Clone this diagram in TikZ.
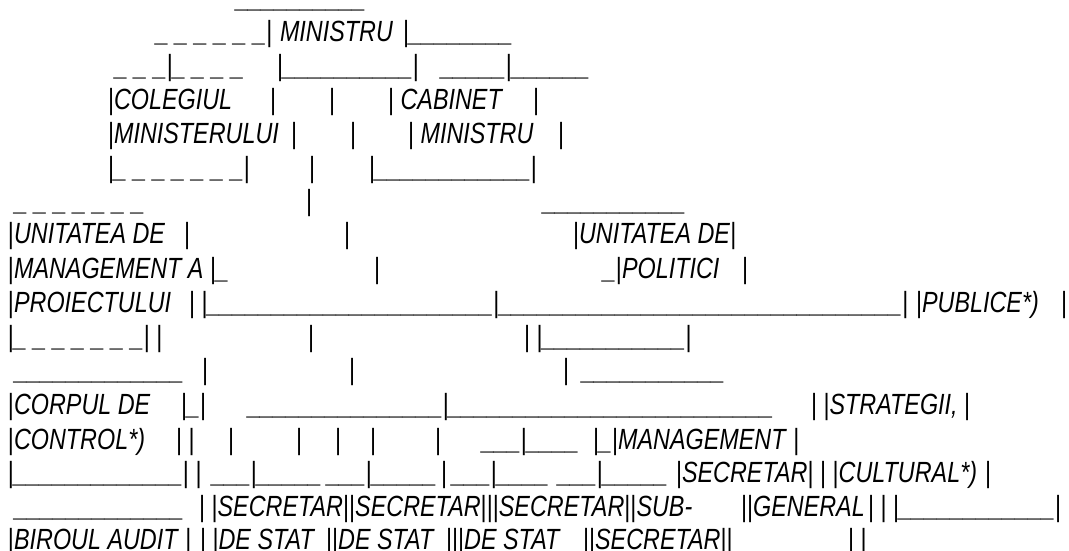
\documentclass[tikz,border=0pt]{standalone}
\usepackage{fontspec}
\setmainfont{Liberation Sans}[FakeStretch=0.80]
\usepackage{tikz}
\newcommand\vb{\textup{|}}
\newcommand\ub{\_}
\newcommand\us[1]{\foreach \nn in {1,...,#1}{\ub}}
\newcommand\ds[1]{\ub\foreach \nn in {2,...,#1}{\ \ub}}
\tikzset{txt/.style={anchor=base west, inner sep=0pt, outer sep=0pt}}

\begin{document}
\begin{tikzpicture}[x=1pt, y=-1pt, font=\itshape\fontsize{29.2}{35}\selectfont]
\useasboundingbox (0,0) rectangle (1069,551);

\node[txt] (l0a) at (236,8) {\us{10}};

\node[txt] (l1a) at (156,41.8) {\ds{6}\vb};
\node[txt] (l1b) at (280,41.8) {MINISTRU};
\node[txt] (l1c) at (403,41.8) {\vb\us{8}};

\node[txt] (l2a) at (115,75.6) {\ds{3}\vb\ds{4}};
\node[txt] (l2b) at (277,75.6) {\vb\us{10}\vb};
\node[txt] (l2c) at (441,75.6) {\us{5}\vb\us{6}};

\node[txt] (l3a) at (108,109.4) {\vb COLEGIUL};
\node[txt] (l3b) at (270,109.4) {\vb};
\node[txt] (l3c) at (329,109.4) {\vb};
\node[txt] (l3d) at (388,109.4) {\vb\ CABINET};
\node[txt] (l3e) at (533,109.4) {\vb};

\node[txt] (l4a) at (108,143.2) {\vb MINISTERULUI};
\node[txt] (l4b) at (291,143.2) {\vb};
\node[txt] (l4c) at (350,143.2) {\vb};
\node[txt] (l4d) at (408,143.2) {\vb\ MINISTRU};
\node[txt] (l4e) at (558,143.2) {\vb};

\node[txt] (l5a) at (108,177) {\vb\ds{7}\vb};
\node[txt] (l5b) at (309,177) {\vb};
\node[txt] (l5c) at (369,177) {\vb\us{12}\vb};

\node[txt] (l6a) at (15,210.8) {\ds{7}};
\node[txt] (l6b) at (306,210.8) {\vb};
\node[txt] (l6c) at (543,210.8) {\us{11}};

\node[txt] (l7a) at (8,243.6) {\vb UNITATEA DE};
\node[txt] (l7b) at (184,243.6) {\vb};
\node[txt] (l7c) at (344,243.6) {\vb};
\node[txt] (l7d) at (573,243.6) {\vb UNITATEA DE\vb};

\node[txt] (l8a) at (8,278.4) {\vb MANAGEMENT A \vb\ub};
\node[txt] (l8b) at (374,278.4) {\vb};
\node[txt] (l8c) at (603,278.4) {\ub\vb POLITICI};
\node[txt] (l8d) at (742,278.4) {\vb};

\node[txt] (l9a) at (8,312.2) {\vb PROIECTULUI};
\node[txt] (l9b) at (189,312.2) {\vb\ \vb\us{22}\vb\us{31}\vb};
\node[txt] (l9c) at (916,312.2) {\vb PUBLICE*)};
\node[txt] (l9d) at (1061,312.2) {\vb};

\node[txt] (l10a) at (8,346) {\vb\ds{7}\vb\ \vb};
\node[txt] (l10b) at (308,346) {\vb};
\node[txt] (l10c) at (524,346) {\vb\ \vb\us{11}\vb};

\node[txt] (l11a) at (15,379.8) {\us{13}};
\node[txt] (l11b) at (202,379.8) {\vb};
\node[txt] (l11c) at (349,379.8) {\vb};
\node[txt] (l11d) at (563,379.8) {\vb};
\node[txt] (l11e) at (582,379.8) {\us{11}};

\node[txt] (l12a) at (8,414.6) {\vb CORPUL DE};
\node[txt] (l12b) at (181,414.6) {\vb\ub\vb};
\node[txt] (l12c) at (248,414.6) {\us{15}\vb\us{25}};
\node[txt] (l12d) at (811,414.6) {\vb\ \vb STRATEGII,\ \vb};

\node[txt] (l13a) at (8,449.4) {\vb CONTROL*)};
\node[txt] (l13b) at (176,449.4) {\vb\ \vb};
\node[txt] (l13c) at (228,449.4) {\vb};
\node[txt] (l13d) at (296,449.4) {\vb};
\node[txt] (l13e) at (335,449.4) {\vb};
\node[txt] (l13f) at (370,449.4) {\vb};
\node[txt] (l13g) at (435,449.4) {\vb};
\node[txt] (l13h) at (482,449.4) {\us{3}\vb\us{4}};
\node[txt] (l13i) at (593,449.4) {\vb\ub\vb MANAGEMENT\ \vb};

\node[txt] (l14a) at (8,482.2) {\vb\us{13}\vb\ \vb};
\node[txt] (l14b) at (212,482.2) {\us{3}\vb\us{5}};
\node[txt] (l14c) at (327,482.2) {\us{3}\vb\us{5}};
\node[txt] (l14d) at (441,482.2) {\vb};
\node[txt] (l14e) at (452,482.2) {\us{3}\vb\us{4}};
\node[txt] (l14f) at (558,482.2) {\us{3}\vb\us{5}};
\node[txt] (l14g) at (676,482.2) {\vb SECRETAR\vb\ \vb\ \vb CULTURAL*)};
\node[txt] (l14h) at (985,482.2) {\vb};

\node[txt] (l15a) at (15,516) {\us{13}};
\node[txt] (l15b) at (199,516) {\vb\ \vb SECRETAR\vb\vb SECRETAR\vb\vb\vb SECRETAR\vb\vb SUB-};
\node[txt] (l15c) at (741,516) {\vb\vb GENERAL};
\node[txt] (l15d) at (868,516) {\vb\ \vb\ \vb\us{12}\vb};

\node[txt] (l16a) at (8,549.5) {\vb BIROUL AUDIT\ \vb};
\node[txt] (l16b) at (200,549.5) {\vb\ \vb DE STAT};
\node[txt] (l16c) at (326,549.5) {\vb\vb DE STAT};
\node[txt] (l16d) at (446,549.5) {\vb\vb\vb DE STAT};
\node[txt] (l16e) at (583,549.5) {\vb\vb SECRETAR\vb\vb};
\node[txt] (l16f) at (848,549.5) {\vb\ \vb};
\end{tikzpicture}
\end{document}
